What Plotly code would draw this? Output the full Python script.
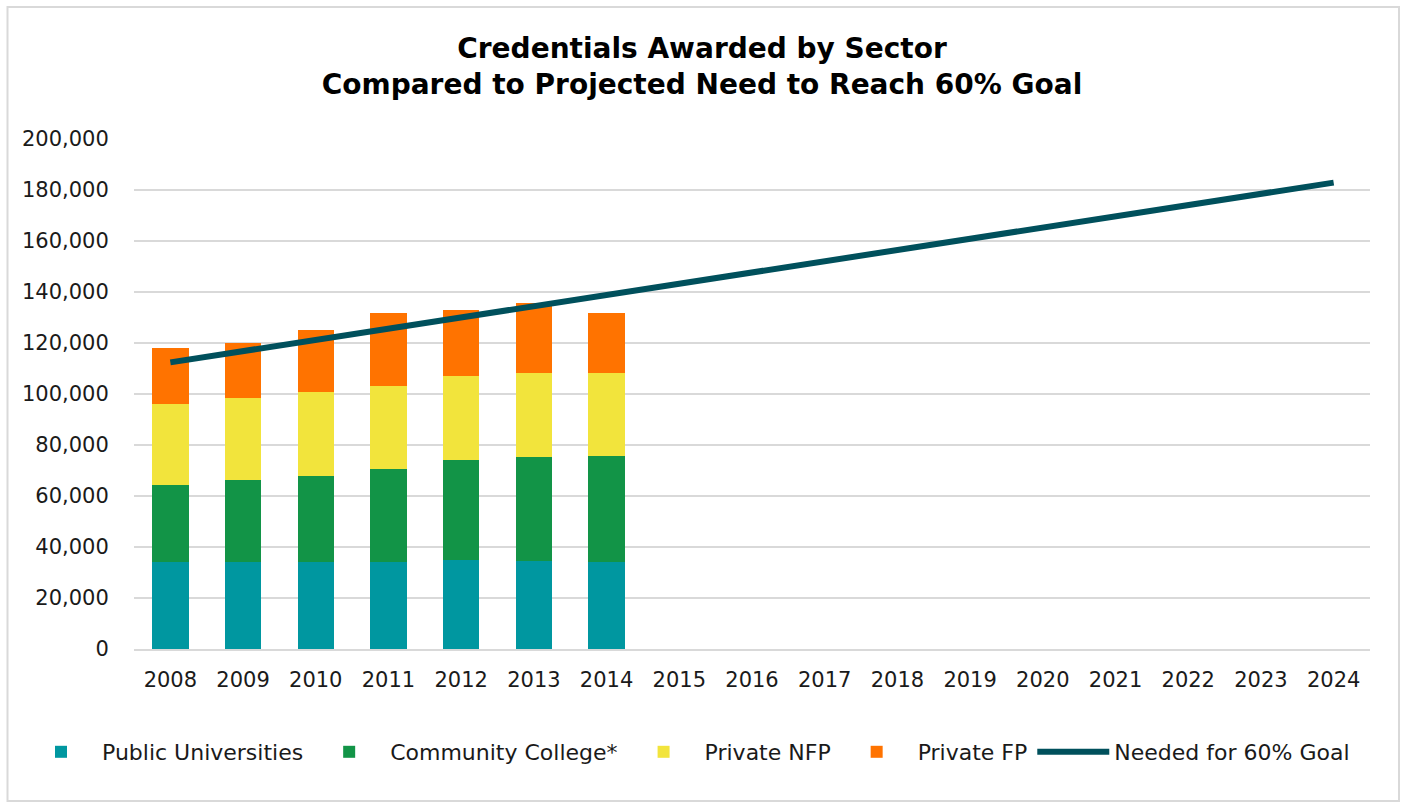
import plotly.graph_objects as go

years = [str(y) for y in range(2008, 2025)]
bar_years = years[:7]

public_univ = [34000, 34000, 34000, 34000, 34900, 34500, 34000]
community_college = [30300, 32300, 33800, 36500, 39200, 40700, 41800]
private_nfp = [31800, 32300, 32800, 32800, 33000, 33000, 32600]
private_fp = [21800, 21300, 24600, 28300, 26000, 27600, 23400]
needed_60 = [112400, 116800, 121200, 125600, 130000, 134400, 138800, 143200,
             147600, 152000, 156500, 160900, 165300, 169700, 174100, 178500, 182900]

y_ticks = list(range(0, 200001, 20000))
y_tick_text = [f"{v:,}" for v in y_ticks]

FONT = "DejaVu Sans"
fig = go.Figure()
for name, vals, color in [
    ("Public Universities", public_univ, "#0097A0"),
    ("Community College*", community_college, "#129447"),
    ("Private NFP", private_nfp, "#F2E43C"),
    ("Private FP", private_fp, "#FF7300"),
]:
    fig.add_trace(go.Bar(x=bar_years, y=vals, name=name, marker_color=color,
                         marker_line_width=0))

fig.add_trace(go.Scatter(x=years, y=needed_60, name="Needed for 60% Goal", mode="lines",
                         line=dict(color="#00505C", width=6)))

# plot area in pixels: x 134..1370, y 139..649
W, H = 1404, 803
l, r, t, b = 134, 34, 139, 154
pw, ph = W - l - r, H - t - b

def px(x):
    return (x - l) / pw

def py(y):
    return (H - b - y) / ph

fig.update_layout(
    width=W, height=H,
    margin=dict(l=l, r=r, t=t, b=b),
    barmode="stack", bargap=0.5,
    plot_bgcolor="white", paper_bgcolor="white",
    font=dict(family=FONT, size=20, color="#1a1a1a"),
    title=dict(text="<b>Credentials Awarded by Sector<br>Compared to Projected Need to Reach 60% Goal</b>",
               x=0.5, xanchor="center", xref="container", y=1 - 58 / H, yanchor="middle",
               font=dict(family=FONT, size=28, color="black")),
    xaxis=dict(categoryorder="array", categoryarray=years, type="category",
               range=[-0.5, 16.5], showgrid=False, showline=True, linecolor="#d9d9d9", linewidth=2,
               ticks="outside", ticklen=11, tickcolor="rgba(0,0,0,0)",
               tickfont=dict(size=21, color="#1a1a1a")),
    yaxis=dict(range=[0, 200000], tickvals=y_ticks, ticktext=y_tick_text,
               showgrid=True, gridcolor="#d9d9d9", gridwidth=1.5, zeroline=False,
               ticks="outside", ticklen=20, tickcolor="rgba(0,0,0,0)",
               tickfont=dict(size=21, color="#1a1a1a")),
    legend=dict(orientation="h", x=px(20), xanchor="left", xref="paper",
                y=py(752), yanchor="middle", yref="paper",
                font=dict(size=22, color="#1a1a1a"),
                traceorder="normal", itemwidth=72),
    shapes=[dict(type="rect", xref="paper", yref="paper",
                 x0=px(7.5), x1=px(1399), y0=py(801), y1=py(7),
                 line=dict(color="#d9d9d9", width=2), fillcolor="rgba(0,0,0,0)", layer="below")],
)

fig.write_html("out.html")
